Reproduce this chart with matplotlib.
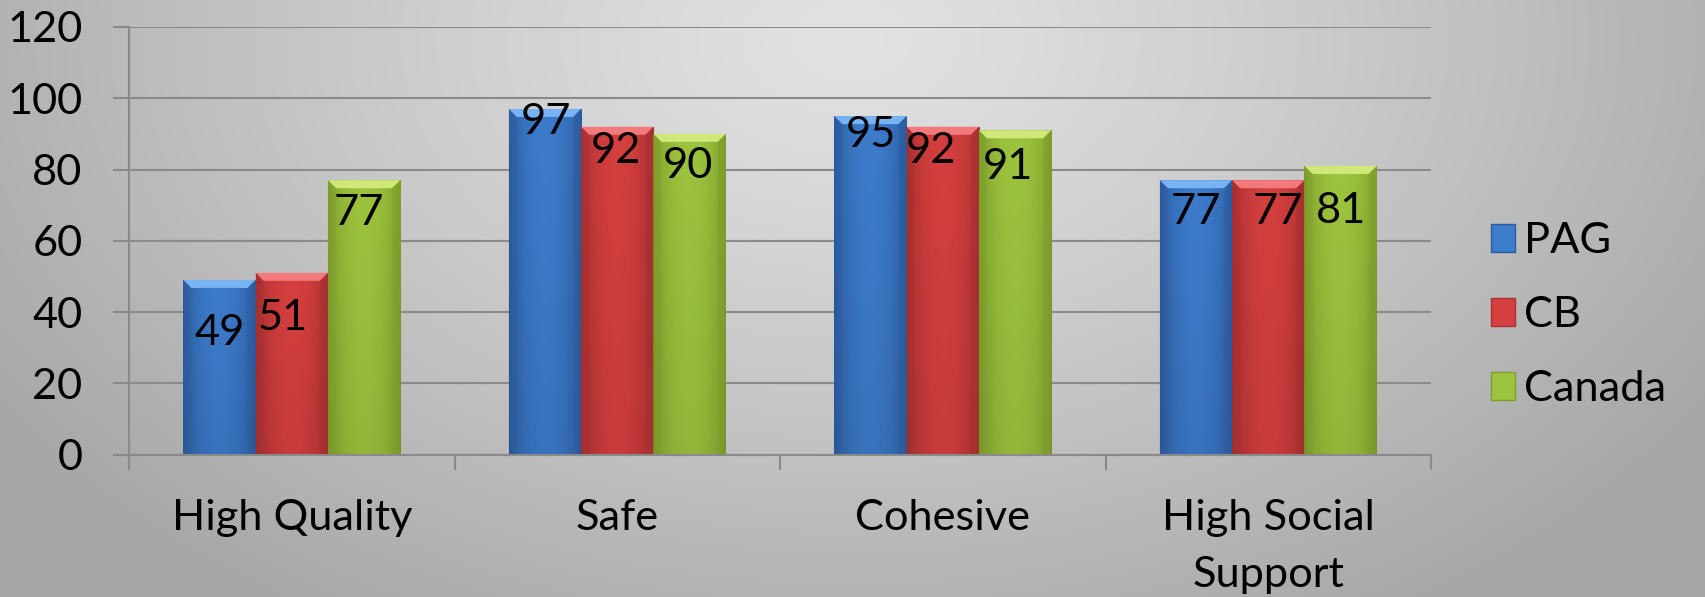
import numpy as np
import matplotlib
matplotlib.use("Agg")
import matplotlib.pyplot as plt
from matplotlib.patches import Polygon, Patch
from matplotlib.colors import to_rgb

# ---------------- data ----------------
categories = ["High Quality", "Safe", "Cohesive", "High Social\nSupport"]
series_names = ["PAG", "CB", "Canada"]
pag = [49, 97, 95, 77]
cb = [51, 92, 92, 77]
canada = [77, 90, 91, 81]
y_ticks = [0, 20, 40, 60, 80, 100, 120]

# label placement (pixel dx, data-units drop below bar top) -- style only
label_dx = [[0, -9, -5], [1.5, -1.3, -1.5], [0.5, -12, -7], [0, 10, 0]]
label_drop = [[14.8, 12.7, 9.2], [3.6, 6.8, 9.0], [5.4, 6.8, 10.4], [9.0, 9.0, 12.7]]

# ---------------- style ----------------
plt.rcParams['font.family'] = ['Lato', 'DejaVu Sans']
FS = 31.2
base_cols = ["#3d7bcb", "#d53f3f", "#9dc43e"]
edge_cols = ["#2c5c9e", "#a83030", "#7e9e2c"]
top_cols = ["#78b4f4", "#f27a7a", "#cfe879"]

W, H, DPI = 1705, 597, 100
fig = plt.figure(figsize=(W / DPI, H / DPI), dpi=DPI)

# background radial gradient
bg = fig.add_axes([0, 0, 1, 1], zorder=-10)
yy, xx = np.mgrid[0:H, 0:W]
r = np.sqrt(((xx - 850) / 900.0) ** 2 + ((yy - 40) / 600.0) ** 2)
r = np.clip(r, 0, 1.15)
light, dark = 226 / 255, 166 / 255
g = light - (light - dark) * (r / 1.15) ** 1.2
bg.imshow(np.dstack([g, g, g]), extent=(0, W, H, 0), aspect='auto', interpolation='bilinear')
bg.set_xlim(0, W)
bg.set_ylim(H, 0)
bg.axis('off')

left, right = 129 / W, 1431 / W
bottom, top = (H - 454.5) / H, (H - 27) / H
ax = fig.add_axes([left, bottom, right - left, top - bottom])
ax.set_facecolor('none')

n_cat = len(categories)
bw = 0.2222
x = np.arange(n_cat)
all_series = [pag, cb, canada]

ax.set_xlim(-0.5, n_cat - 0.5)
ax.set_ylim(0, 120)

px_per_x = (1431 - 129) / n_cat
px_per_y = (454.5 - 27) / 120.0


def grad_img(c_mid, c_edge):
    a = np.linspace(-1, 1, 60)
    w = np.abs(a) ** 2.2
    m = np.array(to_rgb(c_mid))
    e = np.array(to_rgb(c_edge))
    row = m[None, :] * (1 - w[:, None]) + e[None, :] * w[:, None]
    v = np.linspace(1.0, 0.93, 80)
    img = row[None, :, :] * v[::-1][:, None, None]
    return np.clip(img, 0, 1)


for j, vals in enumerate(all_series):
    pos = x + (j - 1) * bw
    bars = ax.bar(pos, vals, width=bw, color=base_cols[j], edgecolor='none',
                  label=series_names[j], zorder=3)
    for b in bars:
        x0, h = b.get_x(), b.get_height()
        x1 = x0 + b.get_width()
        im = ax.imshow(grad_img(base_cols[j], edge_cols[j]), extent=(x0, x1, 0, h),
                       origin='lower', aspect='auto', zorder=3.1, interpolation='bilinear')
        im.set_clip_path(b)
        bx = 8 / px_per_x
        by = 8 / px_per_y
        bev = Polygon([(x0, h), (x1, h), (x1 - bx, h - by), (x0 + bx, h - by)],
                      closed=True, facecolor=top_cols[j], edgecolor='none', zorder=3.2)
        ax.add_patch(bev)
        ax.add_patch(Polygon([(x0, h), (x0 + bx, h - by), (x0 + bx, 0), (x0, 0)], closed=True,
                             facecolor=edge_cols[j], alpha=0.35, edgecolor='none', zorder=3.2))
        ax.add_patch(Polygon([(x1, h), (x1 - bx, h - by), (x1 - bx, 0), (x1, 0)], closed=True,
                             facecolor=edge_cols[j], alpha=0.45, edgecolor='none', zorder=3.2))
    for i, (p, v) in enumerate(zip(pos, vals)):
        ax.annotate(str(v), xy=(p, v), xytext=(label_dx[i][j], -label_drop[i][j] * px_per_y),
                    textcoords='offset pixels', ha='center', va='center',
                    fontsize=FS, color='black', zorder=5)

# axes styling
for s in ['top', 'right']:
    ax.spines[s].set_visible(False)
for s in ['left', 'bottom']:
    ax.spines[s].set_color('#8a8a8a')
    ax.spines[s].set_linewidth(1.5)
    ax.spines[s].set_zorder(4)

ax.set_yticks(y_ticks)
ax.set_yticklabels([str(t) for t in y_ticks], fontsize=FS)
ax.yaxis.grid(True, color='#8a8a8a', linewidth=1.5, zorder=1)
ax.set_axisbelow(True)
ax.tick_params(axis='y', which='major', length=11.5, width=1.5, color='#8a8a8a', pad=22)

ax.set_xticks(x)
ax.set_xticklabels(categories, fontsize=FS, linespacing=1.6)
ax.set_xticks(np.arange(n_cat + 1) - 0.5, minor=True)
ax.tick_params(axis='x', which='major', length=0, pad=32)
ax.tick_params(axis='x', which='minor', length=10.8, width=1.5, color='#8a8a8a')

handles = [Patch(facecolor=base_cols[j], edgecolor=edge_cols[j], linewidth=1.0) for j in range(3)]
fig.legend(handles, series_names, loc='center left', bbox_to_anchor=(1491 / W, 1 - 315 / H),
           frameon=False, fontsize=FS, handlelength=0.55, handleheight=0.62,
           handletextpad=0.2, labelspacing=0.83, borderpad=0, borderaxespad=0)

fig.savefig("out.png", dpi=DPI)
